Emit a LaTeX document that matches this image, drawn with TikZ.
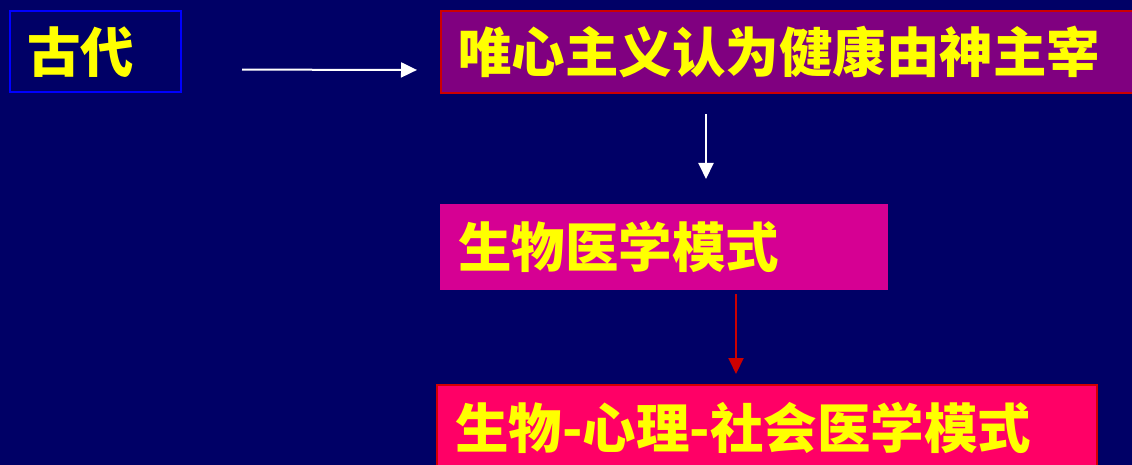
\documentclass[tikz,border=0pt]{standalone}
\usepackage{fontspec}
\newfontfamily\cjk{Noto Sans CJK SC}
\usetikzlibrary{arrows.meta}
\definecolor{bgnavy}{HTML}{000066}
\definecolor{boxblue}{HTML}{0000FF}
\definecolor{boxpurple}{HTML}{800080}
\definecolor{boxred}{HTML}{CC0000}
\definecolor{boxmagenta}{HTML}{D60093}
\definecolor{boxpink}{HTML}{FF0066}
\definecolor{txtyellow}{HTML}{FFFF00}
\tikzset{
  box/.style={draw, line width=2pt, anchor=north west, inner sep=0pt},
  lbl/.style={anchor=west, inner sep=0pt, text=txtyellow, font=\cjk\bfseries\fontsize{53.5pt}{53.5pt}\selectfont},
  arr/.style={line width=2pt, -{Triangle[length=16pt,width=15pt]}},
}
\begin{document}
\begin{tikzpicture}[x=1pt,y=-1pt]
\useasboundingbox (0,0) rectangle (1132,465);
\clip (0,0) rectangle (1132,465);
\fill[bgnavy] (0,0) rectangle (1132,465);
% boxes
\node[box, draw=boxblue, minimum width=171pt, minimum height=81pt] (b1) at (9,10) {};
\node[box, draw=boxred, fill=boxpurple, minimum width=720pt, minimum height=82pt] (b2) at (440,10) {};
\node[box, draw=boxmagenta, fill=boxmagenta, minimum width=446pt, minimum height=84pt] (b3) at (440,204) {};
\node[box, draw=boxred!90!red, fill=boxpink, minimum width=660pt, minimum height=100pt] (b4) at (436,384) {};
% labels
\node[lbl] (t1) at (27,52) {古代};
\node[lbl] (t2) at (458,52) {唯心主义认为健康由神主宰};
\node[lbl] (t3) at (458,247) {生物医学模式};
\node[lbl] (t4) at (455,428) {生物-心理-社会医学模式};
% connectors
\draw[arr, white, shorten <=60pt, shorten >=23pt] ([yshift=-18pt]b1.east) -- ([yshift=-18pt]b2.west);
\draw[arr, white, shorten <=20pt, shorten >=25pt] ([xshift=266pt]b2.south west) -- ([xshift=266pt]b3.north west);
\draw[arr, boxred, shorten <=4pt, shorten >=10pt] ([xshift=296pt]b3.south west) -- ([xshift=300pt]b4.north west);
\end{tikzpicture}
\end{document}
